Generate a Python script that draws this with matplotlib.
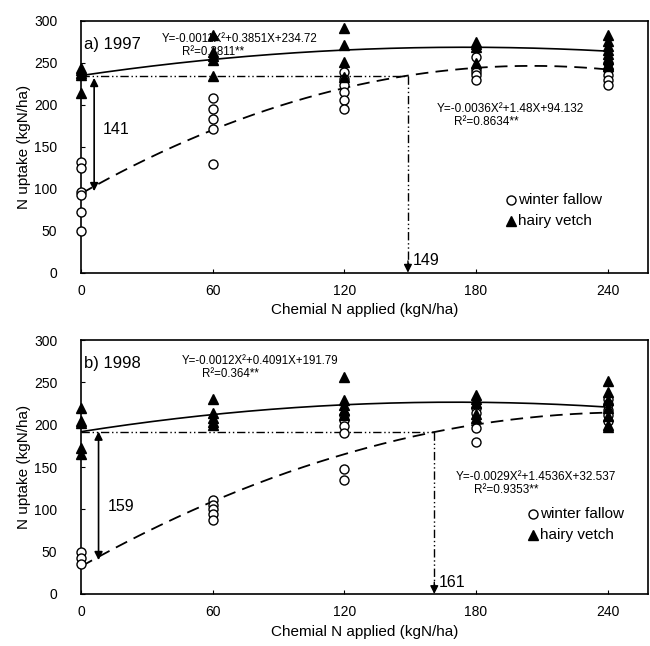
import numpy as np
import matplotlib
matplotlib.use('Agg')
import matplotlib.pyplot as plt

plt.rcParams['font.family'] = ['Liberation Sans', 'DejaVu Sans']

# niveles de N quimico
x_levels = [0, 60, 120, 180, 240]

# 1997 - valores
fallow_97 = [
    [132, 125, 96, 92, 72, 50],
    [208, 195, 183, 171, 129],
    [239, 231, 223, 215, 206, 195],
    [257, 243, 239, 235, 230],
    [250, 241, 235, 229, 223],
]
vetch_97 = [
    [244, 241, 238, 235, 214],
    [283, 263, 258, 253, 234],
    [291, 271, 251, 233],
    [275, 272, 269, 250],
    [283, 276, 270, 265, 260, 255, 249, 246],
]

# 1998
fallow_98 = [
    [50, 43, 36],
    [111, 105, 100, 94, 88],
    [212, 206, 199, 190, 148, 135],
    [220, 214, 196, 180],
    [230, 225, 218, 212, 205],
]
vetch_98 = [
    [220, 205, 202, 173, 166],
    [231, 214, 208, 203, 200],
    [257, 229, 223, 217, 211],
    [235, 230, 226, 213, 208],
    [252, 239, 229, 220, 210, 200, 197],
]

# coeficientes de regresion (X^2, X, const)
fit_vetch_97 = [-0.0011, 0.3851, 234.72]
fit_fall_97 = [-0.0036, 1.48, 94.132]
fit_vetch_98 = [-0.0012, 0.4091, 191.79]
fit_fall_98 = [-0.0029, 1.4536, 32.537]

eq_vetch_97 = ["Y=-0.0011X\u00b2+0.3851X+234.72", "R\u00b2=0.3811**"]
eq_fall_97 = ["Y=-0.0036X\u00b2+1.48X+94.132", "R\u00b2=0.8634**"]
eq_vetch_98 = ["Y=-0.0012X\u00b2+0.4091X+191.79", "R\u00b2=0.364**"]
eq_fall_98 = ["Y=-0.0029X\u00b2+1.4536X+32.537", "R\u00b2=0.9353**"]

gap_97, gap_98 = 141, 159
cross_97, cross_98 = 149, 161

fig = plt.figure(figsize=(6.5, 6.46), dpi=100)
ax1 = fig.add_axes([0.1246, 0.5779, 0.873, 0.390])
ax2 = fig.add_axes([0.1246, 0.0805, 0.873, 0.393])

xx = np.linspace(0, 240, 200)


def scatter(ax, groups, marker, face):
    xs, ys = [], []
    for xv, vals in zip(x_levels, groups):
        xs += [xv] * len(vals)
        ys += vals
    ax.plot(xs, ys, linestyle='none', marker=marker, ms=6.5, mfc=face,
            mec='k', mew=1.0, clip_on=False, zorder=5)


def panel(ax, fall, vetch, fv, ff, gap, cross, arr, tag, eqv, eqf, posv, posf, leg):
    scatter(ax, fall, 'o', 'white')
    scatter(ax, vetch, '^', 'black')
    ax.plot(xx, np.polyval(fv, xx), color='k', lw=1.2, zorder=3)
    ax.plot(xx, np.polyval(ff, xx), color='k', lw=1.3, dashes=(7, 4), zorder=3)

    h = fv[2]
    ax.plot([0, cross], [h, h], color='k', lw=1.0, dashes=(6, 2, 1, 2, 1, 2))
    ax.plot([cross, cross], [h, 10], color='k', lw=1.0, dashes=(6, 2, 1, 2, 1, 2))
    ax.annotate('', xy=(cross, 0), xytext=(cross, 14),
                arrowprops=dict(arrowstyle='-|>', color='k', lw=1.0,
                                shrinkA=0, shrinkB=0, mutation_scale=12))
    ax.text(cross + 2, 14, str(cross), fontsize=11.5, va='center', ha='left')

    ax.annotate('', xy=(arr[0], arr[2]), xytext=(arr[0], arr[1]),
                arrowprops=dict(arrowstyle='<|-|>', color='k', lw=1.2,
                                shrinkA=0, shrinkB=0, mutation_scale=12))
    ax.text(arr[0] + 4, arr[3], str(gap), fontsize=11.5, va='center', ha='left')

    ax.text(1.5, 272, tag, fontsize=12, va='center', ha='left')
    ax.text(posv[0], posv[1], eqv[0], fontsize=8.3, va='center', ha='left')
    ax.text(posv[0] + 9, posv[1] - 15, eqv[1], fontsize=8.3, va='center', ha='left')
    ax.text(posf[0], posf[1], eqf[0], fontsize=8.5, va='center', ha='left')
    ax.text(posf[0] + 8, posf[1] - 15, eqf[1], fontsize=8.5, va='center', ha='left')

    ax.plot([leg[0]], [leg[1]], 'o', ms=6.5, mfc='white', mec='k', mew=1.0)
    ax.text(leg[0] + 3, leg[1], 'winter fallow', fontsize=11, va='center')
    ax.plot([leg[0]], [leg[1] - 25], '^', ms=6.5, mfc='black', mec='k')
    ax.text(leg[0] + 3, leg[1] - 25, 'hairy vetch', fontsize=11, va='center')

    ax.set_xlim(0, 258.6)
    ax.set_ylim(0, 300)
    ax.set_xticks(x_levels)
    ax.set_yticks(range(0, 301, 50))
    ax.tick_params(axis='both', direction='in', length=3, labelsize=10)
    ax.tick_params(axis='y', pad=17)
    ax.tick_params(axis='x', pad=8)
    ax.set_xlabel("Chemial N applied (kgN/ha)", fontsize=11, labelpad=4)
    ax.set_ylabel("N uptake (kgN/ha)", fontsize=11, labelpad=2)
    for s in ax.spines.values():
        s.set_linewidth(1.2)


panel(ax1, fallow_97, vetch_97, fit_vetch_97, fit_fall_97, gap_97, cross_97,
      (6, 232, 97, 170), "a) 1997", eq_vetch_97, eq_fall_97,
      (37, 278), (162, 195), (196, 86))
panel(ax2, fallow_98, vetch_98, fit_vetch_98, fit_fall_98, gap_98, cross_98,
      (8, 192, 40, 103), "b) 1998", eq_vetch_98, eq_fall_98,
      (46, 275), (171, 138), (206, 95))

plt.savefig('out.png', dpi=100)
